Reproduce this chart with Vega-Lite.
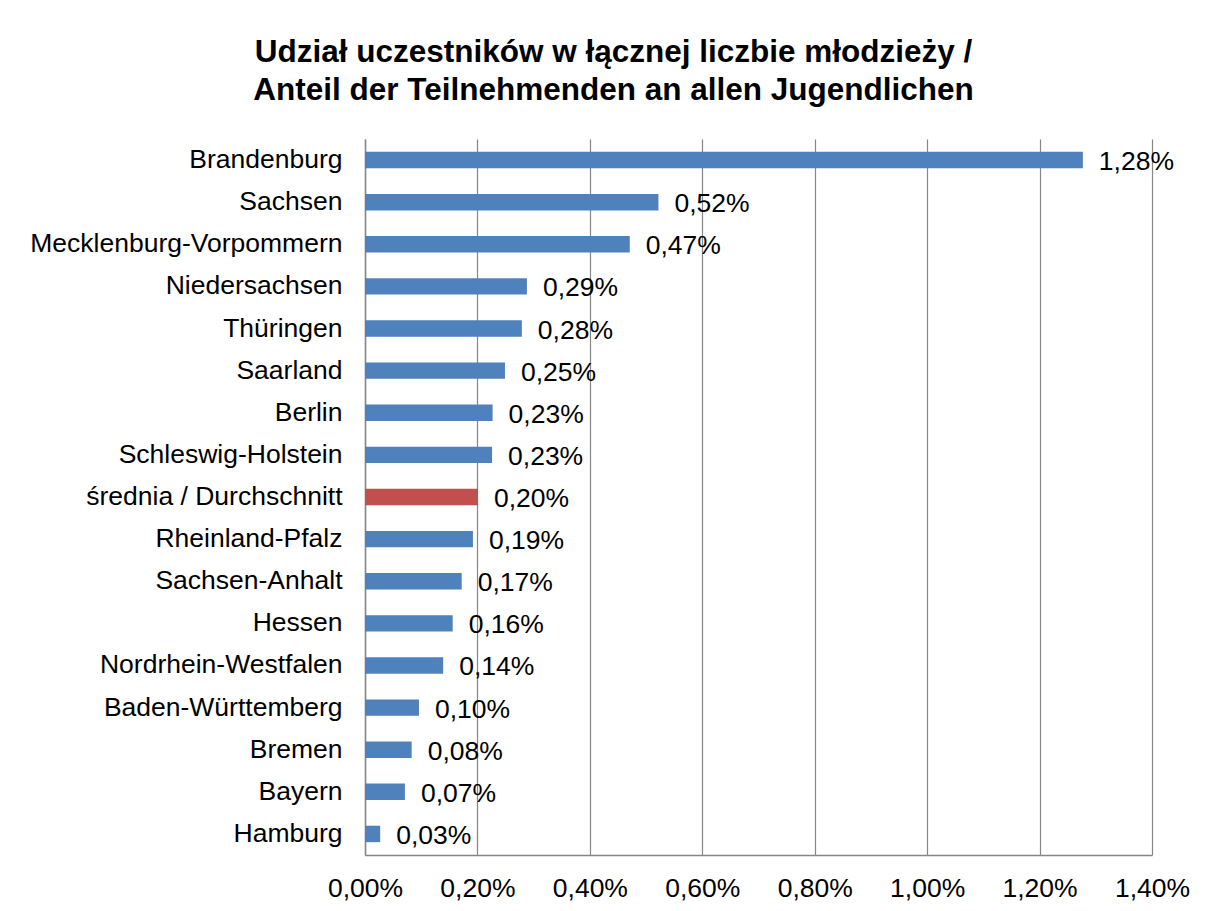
{
  "$schema": "https://vega.github.io/schema/vega-lite/v6.json",
  "autosize": {"type": "none"},
  "padding": {"left": 365, "top": 139, "right": 54, "bottom": 56},
  "width": 787,
  "height": 716,
  "background": "white",
  "title": {
    "text": ["Udział uczestników w łącznej liczbie młodzieży /", "Anteil der Teilnehmenden an allen Jugendlichen"],
    "font": "Liberation Sans",
    "fontSize": 31.5,
    "fontWeight": "bold",
    "color": "#000000",
    "lineHeight": 38,
    "anchor": "middle",
    "dx": -145,
    "offset": 33
  },
  "data": {
    "values": [
      {"land": "Brandenburg", "share": 0.01277, "type": "Land"},
      {"land": "Sachsen", "share": 0.00522, "type": "Land"},
      {"land": "Mecklenburg-Vorpommern", "share": 0.00471, "type": "Land"},
      {"land": "Niedersachsen", "share": 0.00288, "type": "Land"},
      {"land": "Thüringen", "share": 0.00279, "type": "Land"},
      {"land": "Saarland", "share": 0.00249, "type": "Land"},
      {"land": "Berlin", "share": 0.00227, "type": "Land"},
      {"land": "Schleswig-Holstein", "share": 0.00226, "type": "Land"},
      {"land": "średnia / Durchschnitt", "share": 0.00201, "type": "Durchschnitt"},
      {"land": "Rheinland-Pfalz", "share": 0.00192, "type": "Land"},
      {"land": "Sachsen-Anhalt", "share": 0.00172, "type": "Land"},
      {"land": "Hessen", "share": 0.00156, "type": "Land"},
      {"land": "Nordrhein-Westfalen", "share": 0.00139, "type": "Land"},
      {"land": "Baden-Württemberg", "share": 0.00096, "type": "Land"},
      {"land": "Bremen", "share": 0.00083, "type": "Land"},
      {"land": "Bayern", "share": 0.00071, "type": "Land"},
      {"land": "Hamburg", "share": 0.00027, "type": "Land"}
    ]
  },
  "encoding": {
    "y": {
      "field": "land",
      "type": "nominal",
      "sort": null,
      "scale": {"paddingInner": 0.61, "paddingOuter": 0.305},
      "axis": {
        "title": null,
        "ticks": false,
        "labelPadding": 23,
        "labelLimit": 0,
        "labelFont": "Liberation Sans",
        "labelFontSize": 26.5,
        "labelColor": "#000000",
        "domainColor": "#868686",
        "domainWidth": 1.5,
        "grid": false
      }
    },
    "x": {
      "field": "share",
      "type": "quantitative",
      "scale": {"domain": [0, 0.014], "nice": false},
      "axis": {
        "title": null,
        "format": ".2%",
        "values": [0, 0.002, 0.004, 0.006, 0.008, 0.01, 0.012, 0.014],
        "ticks": false,
        "labelPadding": 20,
        "labelFont": "Liberation Sans",
        "labelFontSize": 26.5,
        "labelColor": "#000000",
        "labelFlush": false,
        "labelOverlap": false,
        "domainColor": "#868686",
        "domainWidth": 1.5,
        "grid": true,
        "gridColor": "#868686",
        "gridWidth": 1.2
      }
    }
  },
  "layer": [
    {
      "mark": {"type": "bar", "strokeWidth": 1},
      "encoding": {
        "color": {
          "field": "type",
          "type": "nominal",
          "scale": {"domain": ["Land", "Durchschnitt"], "range": ["#4F81BD", "#C0504D"]},
          "legend": null
        }
      }
    },
    {
      "mark": {
        "type": "text",
        "align": "left",
        "baseline": "middle",
        "dx": 16,
        "dy": 2,
        "font": "Liberation Sans",
        "fontSize": 26.5,
        "color": "#000000"
      },
      "encoding": {
        "text": {"field": "share", "type": "quantitative", "format": ".2%"}
      }
    }
  ],
  "config": {
    "view": {"stroke": null},
    "locale": {
      "number": {
        "decimal": ",",
        "thousands": ".",
        "grouping": [3],
        "currency": ["", " €"]
      }
    }
  }
}
